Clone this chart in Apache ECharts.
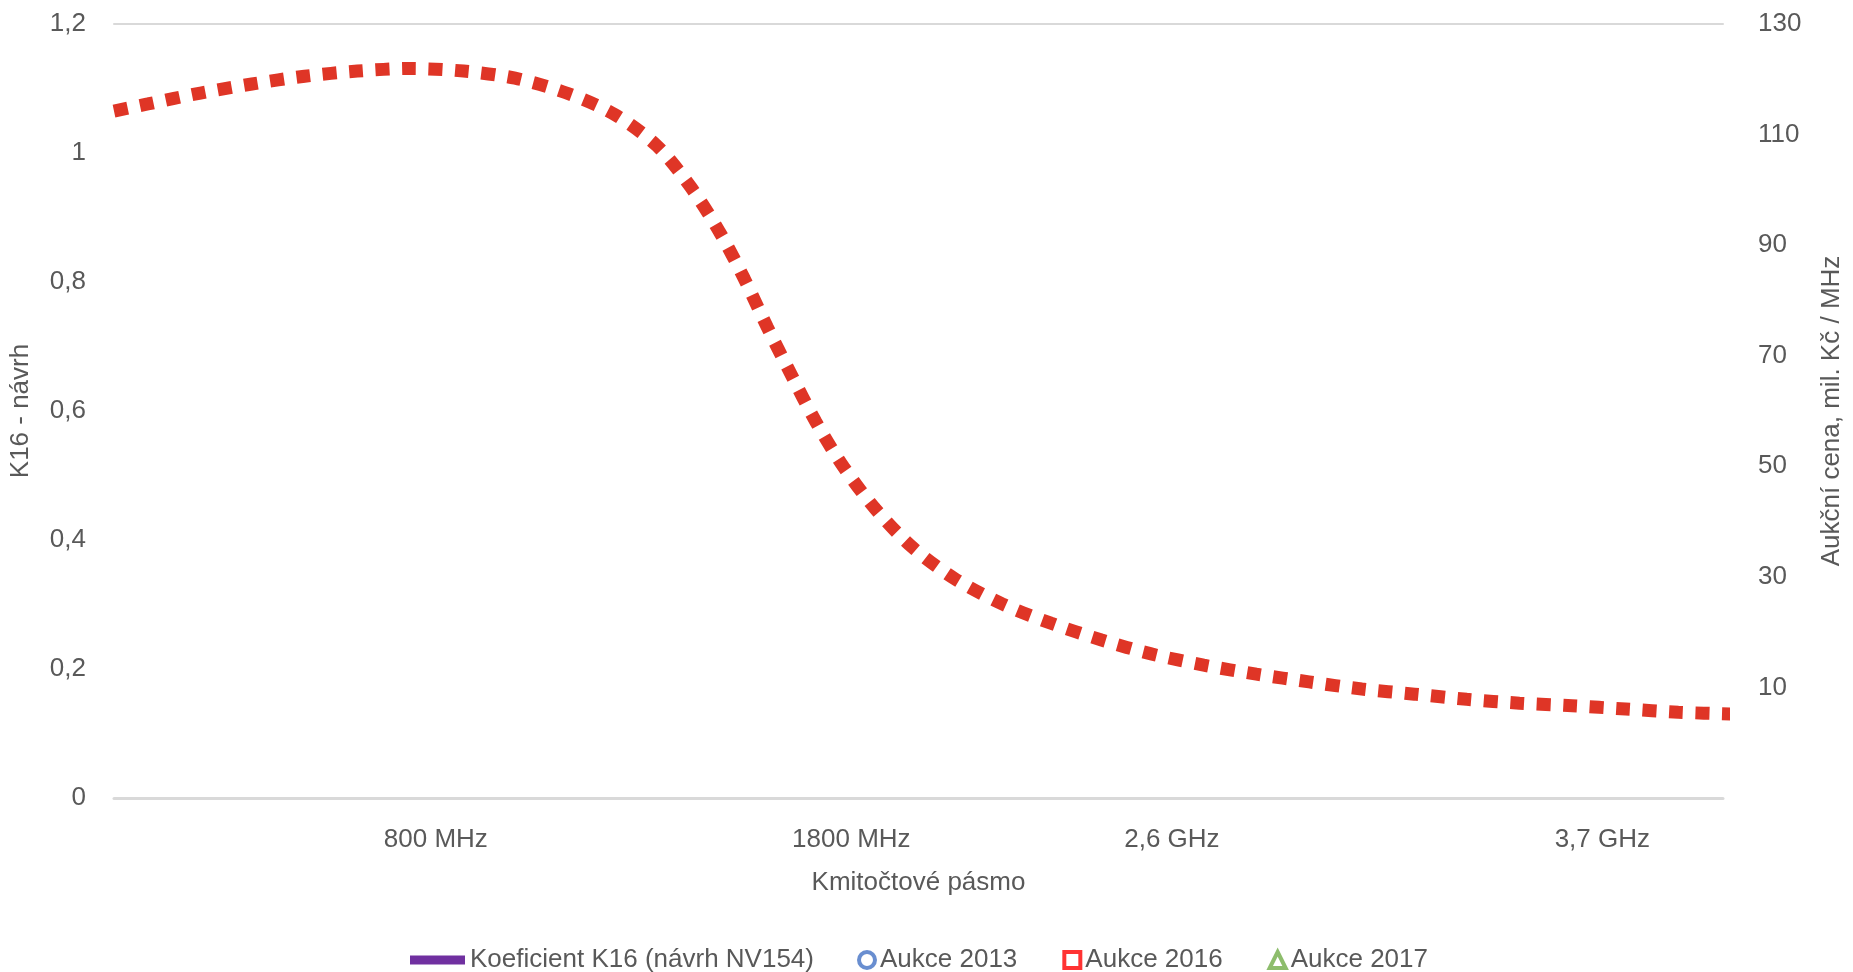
<!DOCTYPE html>
<html>
<head>
<meta charset="utf-8">
<script src="https://cdn.jsdelivr.net/npm/echarts@6/dist/echarts.min.js"></script>
<style>
html,body{margin:0;padding:0;background:#fff;}
#chart{width:1853px;height:972px;}
</style>
</head>
<body>
<div id="chart"></div>
<script>
// frequency-axis position and the red dotted curve values (left axis)
const freqMHz = [0, 84, 215, 343, 474, 605, 735, 869, 997, 1125, 1244, 1350, 1434, 1505, 1567, 1624, 1683, 1745, 1814, 1893, 1986, 2090, 2208, 2329, 2455, 2581, 2709, 2840, 2971, 3102, 3233, 3363, 3494, 3625, 3758, 3889, 4035];
const curveK16 = [1.065, 1.076, 1.093, 1.107, 1.119, 1.127, 1.131, 1.127, 1.116, 1.093, 1.060, 1.011, 0.947, 0.878, 0.805, 0.730, 0.657, 0.583, 0.513, 0.448, 0.388, 0.340, 0.301, 0.271, 0.245, 0.223, 0.206, 0.192, 0.180, 0.169, 0.161, 0.153, 0.147, 0.143, 0.138, 0.133, 0.130];

// legend series (no visible points in the picture)
const k16Design = [];
const auction2013 = [];
const auction2016 = [];
const auction2017 = [];

// tick labels and where they sit on the x axis
const xTickValues = [800, 1833, 2630, 3700];
const xTickLabels = ['800 MHz', '1800 MHz', '2,6 GHz', '3,7 GHz'];
const rightTickValues = [10, 30, 50, 70, 90, 110, 130];

const FONT = 'Liberation Sans';
const TXT = '#595959';

const curveData = freqMHz.map((f, i) => [f, curveK16[i]]);

const chart = echarts.init(document.getElementById('chart'), null, {renderer: 'canvas'});
chart.setOption({
  animation: false,
  backgroundColor: '#ffffff',
  textStyle: {fontFamily: FONT},
  grid: {left: 112, right: 120, top: 24, bottom: 174, containLabel: false},
  xAxis: [{
    type: 'value', min: 0, max: 4000, position: 'bottom',
    name: 'Kmitočtové pásmo', nameLocation: 'middle', nameGap: 72,
    nameTextStyle: {fontFamily: FONT, fontSize: 26, color: TXT},
    axisLine: {show: true, onZero: false, lineStyle: {color: '#d9d9d9', width: 3}},
    axisTick: {show: false},
    splitLine: {show: false},
    axisLabel: {
      customValues: xTickValues, margin: 29,
      fontFamily: FONT, fontSize: 26, color: TXT,
      formatter: v => { const i = xTickValues.indexOf(v); return i >= 0 ? xTickLabels[i] : ''; }
    }
  }, {
    type: 'value', min: 0, max: 4000, position: 'top',
    axisLine: {show: true, onZero: false, lineStyle: {color: '#d9d9d9', width: 2}},
    axisTick: {show: false}, axisLabel: {show: false}, splitLine: {show: false}
  }],
  yAxis: [{
    type: 'value', min: 0, max: 1.2, interval: 0.2, position: 'left',
    name: 'K16 - návrh', nameLocation: 'middle', nameGap: 80,
    nameTextStyle: {fontFamily: FONT, fontSize: 26, color: TXT},
    axisLine: {show: false}, axisTick: {show: false}, splitLine: {show: false},
    axisLabel: {
      margin: 28, fontFamily: FONT, fontSize: 26, color: TXT,
      formatter: v => String(+v.toFixed(1)).replace('.', ',')
    }
  }, {
    type: 'value', min: -10, max: 130, position: 'right',
    name: 'Aukční cena, mil. Kč / MHz', nameLocation: 'middle', nameGap: 96,
    nameTextStyle: {fontFamily: FONT, fontSize: 26, color: TXT},
    axisLine: {show: false}, axisTick: {show: false}, splitLine: {show: false},
    axisLabel: {customValues: rightTickValues, margin: 35, fontFamily: FONT, fontSize: 26, color: TXT}
  }],
  legend: [{
    left: 410, top: 947, padding: 0, itemWidth: 55, itemHeight: 9, itemGap: 40,
    textStyle: {fontFamily: FONT, fontSize: 26, color: TXT},
    data: [{name: 'Koeficient K16 (návrh NV154)', icon: 'rect', itemStyle: {color: '#7030A0', borderWidth: 0}}]
  }, {
    left: 857, top: 947, padding: 0, itemWidth: 16, itemHeight: 16, itemGap: 45,
    textStyle: {fontFamily: FONT, fontSize: 26, color: TXT},
    data: [
      {name: 'Aukce 2013', icon: 'circle', itemStyle: {color: '#ffffff', borderColor: '#4472C4', borderWidth: 4}},
      {name: 'Aukce 2016', icon: 'rect', itemStyle: {color: '#ffffff', borderColor: '#FF0000', borderWidth: 4}},
      {name: 'Aukce 2017', icon: 'triangle', itemStyle: {color: '#ffffff', borderColor: '#70AD47', borderWidth: 4}}
    ]
  }],
  series: [{
    name: 'Koeficient K16 (návrh NV154)', type: 'line', data: k16Design, yAxisIndex: 0,
    showSymbol: false, lineStyle: {color: '#7030A0', width: 9}, itemStyle: {color: '#7030A0'}
  }, {
    name: 'Aukce 2013', type: 'scatter', yAxisIndex: 1, data: auction2013, symbol: 'circle',
    itemStyle: {color: '#fff', borderColor: '#4472C4', borderWidth: 4}
  }, {
    name: 'Aukce 2016', type: 'scatter', yAxisIndex: 1, data: auction2016, symbol: 'rect',
    itemStyle: {color: '#fff', borderColor: '#FF0000', borderWidth: 4}
  }, {
    name: 'Aukce 2017', type: 'scatter', yAxisIndex: 1, data: auction2017, symbol: 'triangle',
    itemStyle: {color: '#fff', borderColor: '#70AD47', borderWidth: 4}
  }, {
    name: 'K16 křivka', type: 'line', yAxisIndex: 0, data: curveData,
    smooth: 0.3, showSymbol: false, clip: false, silent: true,
    lineStyle: {color: '#DF3526', width: 13, type: [14, 12.5], cap: 'butt'}
  }]
});
</script>
</body>
</html>
